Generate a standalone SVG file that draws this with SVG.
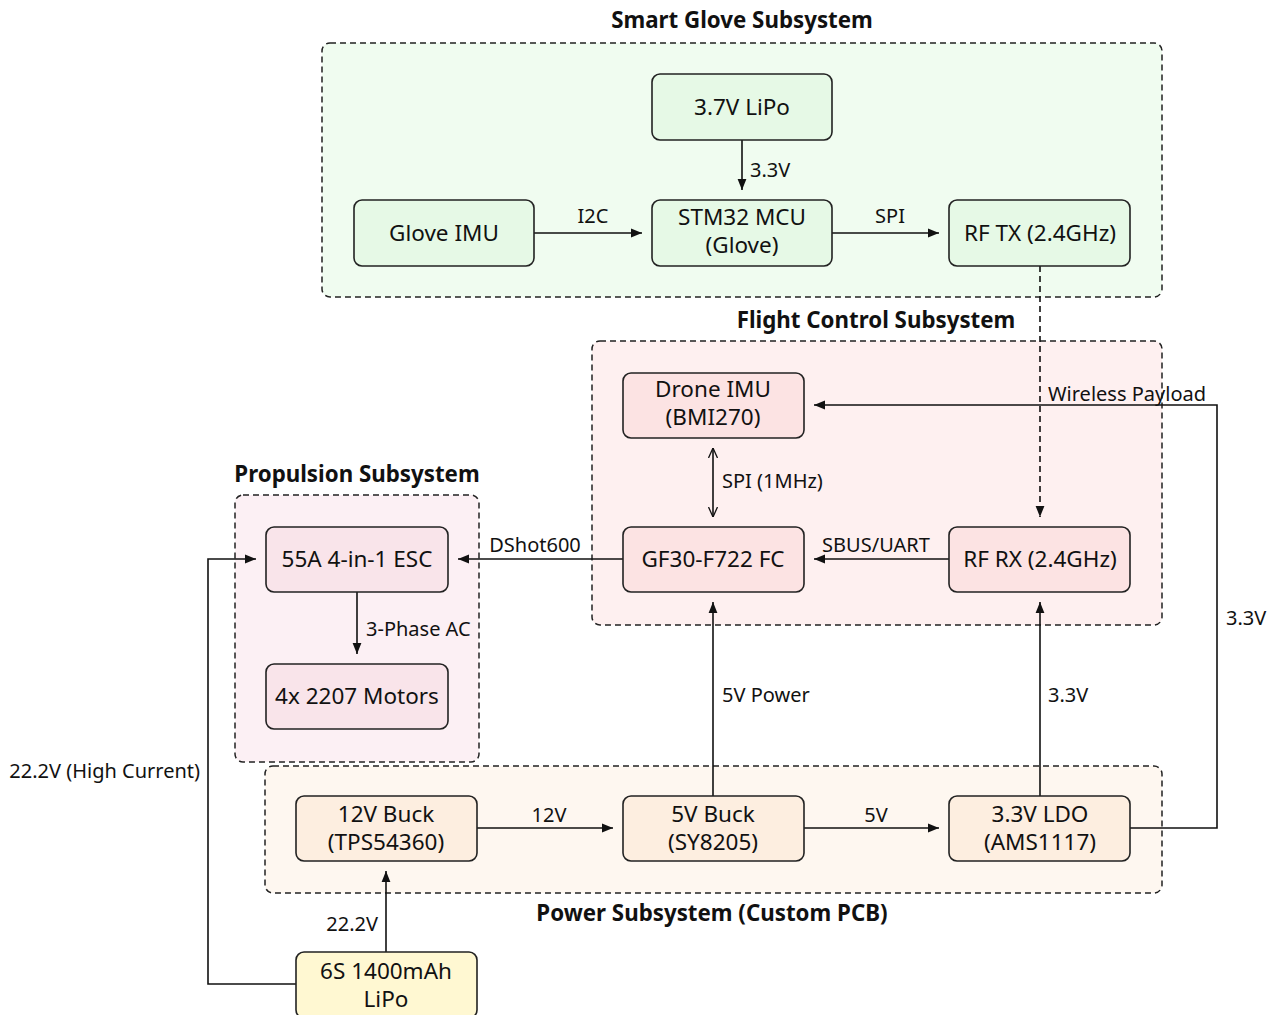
<svg xmlns="http://www.w3.org/2000/svg" width="1277" height="1015" viewBox="0 0 1277 1015">
<defs>
<style>
text{font-family:"Noto Sans","Open Sans","DejaVu Sans",sans-serif;fill:#111}
.nl{font-size:22.5px;text-anchor:middle}
.el{font-size:20px}
.ct{font-size:22.3px;font-weight:bold;text-anchor:middle}
.cl{stroke:#222;stroke-width:1.5;stroke-dasharray:6 4}
.nd{stroke:#222;stroke-width:1.6}
.e{fill:none;stroke:#111;stroke-width:1.6}
.g1{fill:#f0fcf0}.g2{fill:#e6f9e6}
.f1{fill:#fef0f0}.f2{fill:#fce3e3}
.p1{fill:#fcf0f4}.p2{fill:#f9e4ea}
.w1{fill:#fef7f0}.w2{fill:#fdeee0}
.b{fill:#fff8d2}
</style>
<marker id="ah" viewBox="0 0 10 10" refX="10" refY="5" markerWidth="11" markerHeight="11" markerUnits="userSpaceOnUse" orient="auto-start-reverse"><path d="M0,1 L10,5 L0,9 z" fill="#111"/></marker>
<marker id="oa" viewBox="0 0 10 10" refX="10" refY="5" markerWidth="10" markerHeight="10" markerUnits="userSpaceOnUse" orient="auto-start-reverse"><path d="M0,0.5 L10,5 L0,9.5" fill="none" stroke="#111" stroke-width="1.3"/></marker>
</defs>
<rect width="1277" height="1015" fill="#fff"/>

<g id="clusters">
<g id="cluster-glove"><rect class="cl g1" x="322" y="43" width="840" height="254" rx="8"/><text class="ct" x="742" y="28">Smart Glove Subsystem</text></g>
<g id="cluster-flight"><rect class="cl f1" x="592" y="341" width="570" height="284" rx="8"/><text class="ct" x="876" y="328">Flight Control Subsystem</text></g>
<g id="cluster-prop"><rect class="cl p1" x="235" y="495" width="244" height="267" rx="8"/><text class="ct" x="357" y="482">Propulsion Subsystem</text></g>
<g id="cluster-power"><rect class="cl w1" x="265" y="766" width="897" height="127" rx="8"/><text class="ct" x="712" y="921">Power Subsystem (Custom PCB)</text></g>
</g>

<g id="connectors">
<path class="e" d="M742,140 V190" marker-end="url(#ah)"/>
<text class="el" x="750" y="177">3.3V</text>
<path class="e" d="M534,233 H642" marker-end="url(#ah)"/>
<text class="el" x="593" y="223" text-anchor="middle">I2C</text>
<path class="e" d="M832,233 H939" marker-end="url(#ah)"/>
<text class="el" x="890" y="223" text-anchor="middle">SPI</text>
<path class="e" d="M1040,266 V517" stroke-dasharray="6 4" marker-end="url(#ah)"/>
<text class="el" x="1048" y="401">Wireless Payload</text>
<path class="e" d="M713,448 V517" marker-start="url(#oa)" marker-end="url(#oa)"/>
<text class="el" x="722" y="488">SPI (1MHz)</text>
<path class="e" d="M949,559 H814" marker-end="url(#ah)"/>
<text class="el" x="876" y="552" text-anchor="middle">SBUS/UART</text>
<path class="e" d="M623,559 H458" marker-end="url(#ah)"/>
<text class="el" x="535" y="552" text-anchor="middle">DShot600</text>
<path class="e" d="M357,592 V654" marker-end="url(#ah)"/>
<text class="el" x="366" y="636">3-Phase AC</text>
<path class="e" d="M477,828 H613" marker-end="url(#ah)"/>
<text class="el" x="549" y="822" text-anchor="middle">12V</text>
<path class="e" d="M804,828 H939" marker-end="url(#ah)"/>
<text class="el" x="876" y="822" text-anchor="middle">5V</text>
<path class="e" d="M713,796 V602" marker-end="url(#ah)"/>
<text class="el" x="722" y="702">5V Power</text>
<path class="e" d="M1040,796 V602" marker-end="url(#ah)"/>
<text class="el" x="1048" y="702">3.3V</text>
<path class="e" d="M1130,828 H1217 V405 H814" marker-end="url(#ah)"/>
<text class="el" x="1226" y="625">3.3V</text>
<path class="e" d="M386,952 V871" marker-end="url(#ah)"/>
<text class="el" x="378" y="931" text-anchor="end">22.2V</text>
<path class="e" d="M296,984 H208 V559 H256" marker-end="url(#ah)"/>
<text class="el" x="200" y="778" text-anchor="end">22.2V (High Current)</text>
</g>

<g id="node-lipo37"><rect class="nd g2" x="652" y="74" width="180" height="66" rx="8"/><text class="nl" x="742" y="115">3.7V LiPo</text></g>
<g id="node-gloveimu"><rect class="nd g2" x="354" y="200" width="180" height="66" rx="8"/><text class="nl" x="444" y="241">Glove IMU</text></g>
<g id="node-stm32"><rect class="nd g2" x="652" y="200" width="180" height="66" rx="8"/><text class="nl" x="742" y="225">STM32 MCU</text><text class="nl" x="742" y="253">(Glove)</text></g>
<g id="node-rftx"><rect class="nd g2" x="949" y="200" width="181" height="66" rx="8"/><text class="nl" x="1040" y="241">RF TX (2.4GHz)</text></g>

<g id="node-droneimu"><rect class="nd f2" x="623" y="373" width="181" height="65" rx="8"/><text class="nl" x="713" y="397">Drone IMU</text><text class="nl" x="713" y="425">(BMI270)</text></g>
<g id="node-fc"><rect class="nd f2" x="623" y="527" width="181" height="65" rx="8"/><text class="nl" x="713" y="567">GF30-F722 FC</text></g>
<g id="node-rfrx"><rect class="nd f2" x="949" y="527" width="181" height="65" rx="8"/><text class="nl" x="1040" y="567">RF RX (2.4GHz)</text></g>

<g id="node-esc"><rect class="nd p2" x="266" y="527" width="182" height="65" rx="8"/><text class="nl" x="357" y="567">55A 4-in-1 ESC</text></g>
<g id="node-motors"><rect class="nd p2" x="266" y="664" width="182" height="65" rx="8"/><text class="nl" x="357" y="704">4x 2207 Motors</text></g>

<g id="node-buck12"><rect class="nd w2" x="296" y="796" width="181" height="65" rx="8"/><text class="nl" x="386" y="822">12V Buck</text><text class="nl" x="386" y="850">(TPS54360)</text></g>
<g id="node-buck5"><rect class="nd w2" x="623" y="796" width="181" height="65" rx="8"/><text class="nl" x="713" y="822">5V Buck</text><text class="nl" x="713" y="850">(SY8205)</text></g>
<g id="node-ldo"><rect class="nd w2" x="949" y="796" width="181" height="65" rx="8"/><text class="nl" x="1040" y="822">3.3V LDO</text><text class="nl" x="1040" y="850">(AMS1117)</text></g>

<g id="node-lipo6s"><rect class="nd b" x="296" y="952" width="181" height="66" rx="8"/><text class="nl" x="386" y="979">6S 1400mAh</text><text class="nl" x="386" y="1007">LiPo</text></g>
</svg>
